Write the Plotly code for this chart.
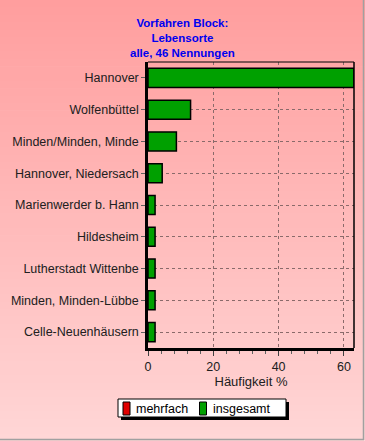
import plotly.graph_objects as go

categories = ["Hannover", "Wolfenbüttel", "Minden/Minden, Minde", "Hannover, Niedersach",
              "Marienwerder b. Hann", "Hildesheim", "Lutherstadt Wittenbe",
              "Minden, Minden-Lübbe", "Celle-Neuenhäusern"]
insgesamt = [63.04, 13.04, 8.70, 4.35, 2.17, 2.17, 2.17, 2.17, 2.17]
mehrfach = [0, 0, 0, 0, 0, 0, 0, 0, 0]
x_ticks = [0, 20, 40, 60]
series_names = ["mehrfach", "insgesamt"]
series_colors = ["#E00000", "#00A000"]
title_lines = ["Vorfahren Block:", "Lebensorte", "alle, 46 Nennungen"]

W, H = 365, 441
L, R, T, B = 148, 11, 62, 93
pw, ph = W - L - R, H - T - B

def px(xp):
    return (xp - L) / pw

def py(yp):
    return (H - B - yp) / ph

fig = go.Figure()
fig.add_trace(go.Bar(y=categories, x=mehrfach, orientation="h", name=series_names[0],
                     showlegend=False,
                     marker=dict(color=series_colors[0], line=dict(color="black", width=1))))
fig.add_trace(go.Bar(y=categories, x=insgesamt, orientation="h", name=series_names[1],
                     showlegend=False,
                     marker=dict(color=series_colors[1], line=dict(color="black", width=1.5))))

shapes = []
# gradient background
n = 60
top = (255, 158, 158)
bot = (255, 214, 214)
for i in range(n):
    t = i / (n - 1)
    c = tuple(round(top[k] + (bot[k] - top[k]) * t) for k in range(3))
    y0 = i * H / n
    y1 = (i + 1) * H / n + 0.6
    shapes.append(dict(type="rect", xref="paper", yref="paper", layer="below",
                       x0=px(0), x1=px(W), y0=py(y1), y1=py(y0),
                       fillcolor="rgb(%d,%d,%d)" % c, line=dict(width=0)))
# outer gray border right/bottom
shapes.append(dict(type="line", xref="paper", yref="paper", x0=px(363.5), x1=px(363.5),
                   y0=py(0), y1=py(440), line=dict(color="#A0A0A0", width=1.5)))
shapes.append(dict(type="line", xref="paper", yref="paper", x0=px(0), x1=px(364),
                   y0=py(439.5), y1=py(439.5), line=dict(color="#A0A0A0", width=1.5)))
# top and right frame (thin)
shapes.append(dict(type="line", xref="paper", yref="paper", x0=0, x1=1, y0=1, y1=1,
                   line=dict(color="black", width=1)))
shapes.append(dict(type="line", xref="paper", yref="paper", x0=1, x1=1, y0=0, y1=1,
                   line=dict(color="black", width=1.5)))
# legend box with shadow
shapes.append(dict(type="rect", xref="paper", yref="paper",
                   x0=px(121), x1=px(289), y0=py(420), y1=py(402),
                   fillcolor="black", line=dict(width=0)))
shapes.append(dict(type="rect", xref="paper", yref="paper",
                   x0=px(118), x1=px(286), y0=py(417), y1=py(399),
                   fillcolor="white", line=dict(color="black", width=1)))
annotations = [dict(text="<br>".join("<b>%s</b>" % s for s in title_lines),
                    xref="paper", yref="paper", x=px(182.5), y=py(37.5),
                    xanchor="center", yanchor="middle", showarrow=False,
                    font=dict(size=11.5, color="#0000F0"))]
leg_icon_x = [123, 199.5]
for name, col, ix in zip(series_names, series_colors, leg_icon_x):
    shapes.append(dict(type="rect", xref="paper", yref="paper",
                       x0=px(ix), x1=px(ix + 7), y0=py(415), y1=py(402),
                       fillcolor=col, line=dict(color="black", width=1)))
    annotations.append(dict(text=name, xref="paper", yref="paper",
                            x=px(ix + 11), y=py(408.5), xanchor="left", yanchor="middle",
                            showarrow=False, font=dict(size=12.5, color="black")))

fig.update_layout(
    width=W, height=H,
    margin=dict(l=L, r=R, t=T, b=B),
    paper_bgcolor="rgb(255,200,200)",
    plot_bgcolor="rgba(0,0,0,0)",
    barmode="overlay",
    bargap=0.4,
    shapes=shapes,
    annotations=annotations,
    font=dict(family="Liberation Sans, Arial, sans-serif", size=12.5, color="#202020"),
    showlegend=False,
    xaxis=dict(range=[0, 63.1], tickvals=x_ticks, ticks="outside", ticklen=5,
               tickcolor="#404040", showline=True, linecolor="black", linewidth=2.5,
               showgrid=True, gridcolor="#8a6a6a", griddash="3px,3px", gridwidth=1,
               zeroline=False, tickfont=dict(size=12.5),
               title=dict(text="Häufigkeit %", standoff=1, font=dict(size=13)),
               minor=dict(dtick=4, ticks="outside", ticklen=3, tickcolor="#606060")),
    yaxis=dict(categoryorder="array", categoryarray=categories, autorange="reversed",
               ticks="outside", ticklen=4, tickcolor="#606060", tickfont=dict(size=12.5),
               showline=True, linecolor="black", linewidth=2.5,
               showgrid=True, gridcolor="#8a6a6a", griddash="3px,3px", gridwidth=1),
)

fig.write_html("out.html", config={"displayModeBar": False},
               post_script="document.body.style.margin='0px';")
